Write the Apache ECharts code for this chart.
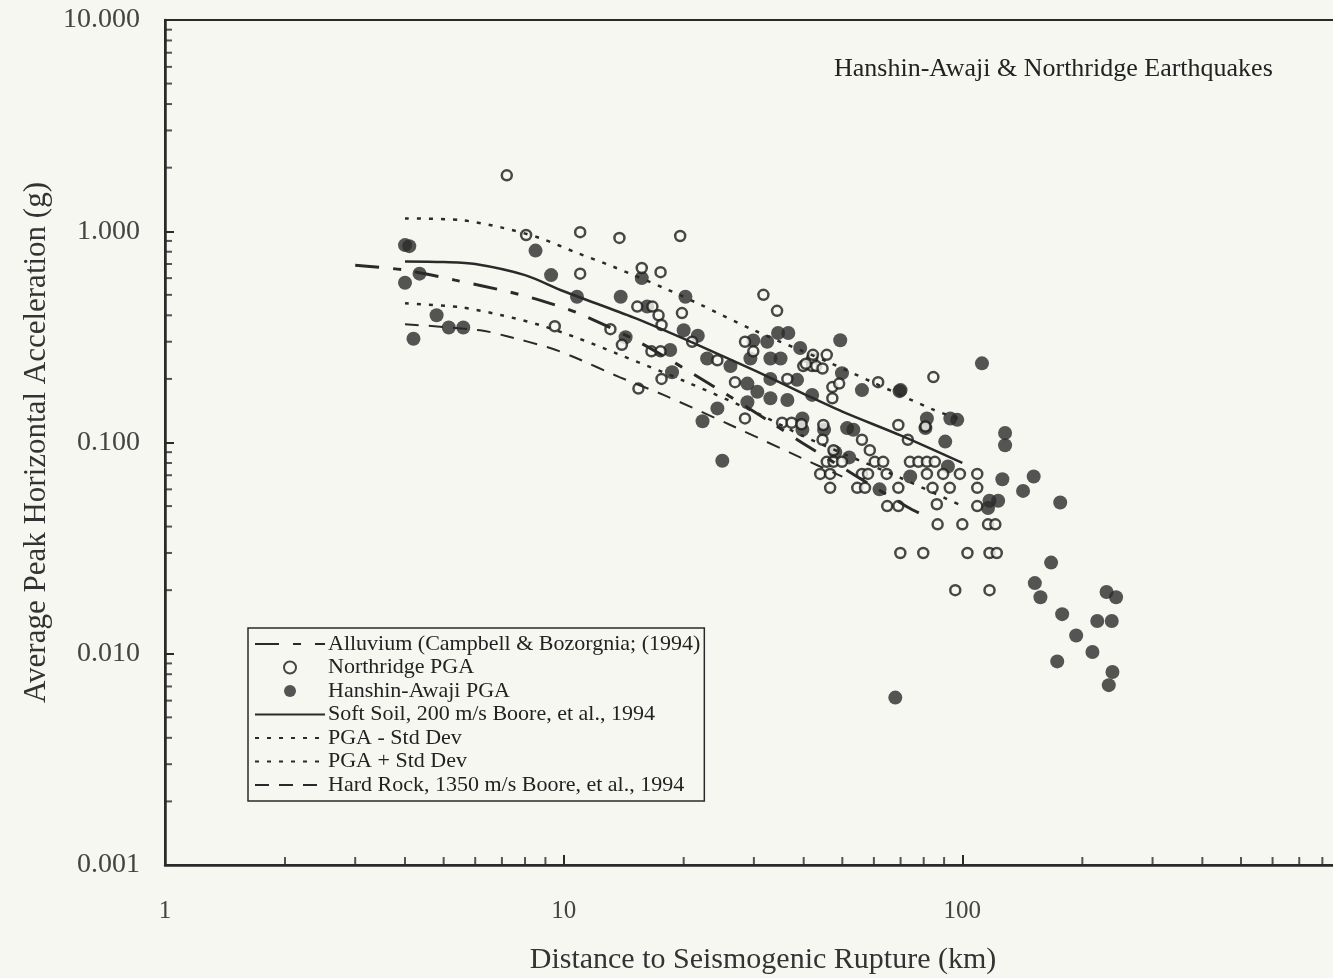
<!DOCTYPE html>
<html>
<head>
<meta charset="utf-8">
<title>Hanshin-Awaji & Northridge PGA</title>
<script src="https://cdn.jsdelivr.net/npm/echarts@6/dist/echarts.min.js"></script>
<style>
    html, body { margin: 0; padding: 0; background: #f7f7f2; }
    #chart { width: 1333px; height: 978px; }
</style>
</head>
<body>
<div id="chart"></div>
<script>
// 数据 (距离 km, PGA g) 从图上读出
const northridgePGA = [
    [7.2, 1.84], [8.05, 0.96], [11.0, 0.99], [13.8, 0.93], [19.6, 0.95],
    [11.0, 0.63], [15.7, 0.67], [17.5, 0.64],
    [9.5, 0.355], [13.1, 0.344], [14.0, 0.29], [15.4, 0.18],
    [15.3, 0.44], [16.7, 0.44], [17.3, 0.40], [17.6, 0.36],
    [16.6, 0.27], [17.5, 0.27], [17.6, 0.20],
    [19.8, 0.41], [21.0, 0.30], [24.3, 0.245], [26.9, 0.193], [28.5, 0.13],
    [28.5, 0.30], [29.9, 0.27], [31.7, 0.50], [34.3, 0.42],
    [36.4, 0.20], [39.9, 0.23], [42, 0.23], [42, 0.25],
    [35.3, 0.124], [37.3, 0.124], [39.5, 0.122],
    [42.2, 0.26], [45.7, 0.26], [40.5, 0.236], [43, 0.23], [44.6, 0.224],
    [47.2, 0.183], [49.1, 0.19], [47.2, 0.162],
    [61.5, 0.193], [84.6, 0.204],
    [44.8, 0.121], [56, 0.103], [69.1, 0.121], [73, 0.103], [80.8, 0.119],
    [44.6, 0.103], [47.5, 0.092], [58.6, 0.092],
    [45.7, 0.081], [47.5, 0.081], [49.9, 0.081], [60.3, 0.081], [63.3, 0.081],
    [73.9, 0.081], [77.6, 0.081], [81.5, 0.081], [85.3, 0.081],
    [44, 0.071], [46.6, 0.071], [56, 0.071], [58, 0.071], [64.6, 0.071],
    [81.5, 0.071], [89.5, 0.071], [98.6, 0.071], [109, 0.071],
    [46.6, 0.061], [54.5, 0.061], [57, 0.061], [69.1, 0.061], [84.2, 0.061], [93, 0.061], [109, 0.061],
    [64.8, 0.050], [69.1, 0.050], [86.3, 0.051], [109, 0.050],
    [86.7, 0.041], [100, 0.041], [116, 0.041], [121, 0.041],
    [69.9, 0.030], [79.8, 0.030], [103, 0.030], [117, 0.030], [122, 0.030],
    [96, 0.020], [117, 0.020]
];

const hanshinPGA = [
    [4.0, 0.86], [4.1, 0.85], [4.0, 0.57], [4.35, 0.63], [4.8, 0.40], [5.15, 0.35], [5.6, 0.35], [4.2, 0.31],
    [8.5, 0.81], [9.3, 0.62], [10.8, 0.49], [13.9, 0.49], [14.3, 0.315],
    [15.7, 0.60], [16.2, 0.44], [18.5, 0.274], [18.7, 0.215],
    [20.2, 0.49], [20.0, 0.34], [21.7, 0.32], [22.3, 0.126], [25, 0.082], [24.3, 0.145],
    [22.9, 0.25], [26.2, 0.23], [28.9, 0.19], [28.9, 0.155], [30.6, 0.174], [33, 0.162], [33, 0.20],
    [36.4, 0.159], [38.5, 0.198], [42, 0.168], [39.7, 0.130], [39.7, 0.115],
    [29.9, 0.304], [32.4, 0.30], [34.5, 0.33], [36.6, 0.33], [29.4, 0.25], [33, 0.25], [35, 0.25], [39.2, 0.28],
    [49.4, 0.305], [112, 0.237], [70, 0.177], [56, 0.177], [49.9, 0.213], [93.3, 0.130], [97.1, 0.128],
    [81.5, 0.13], [80.8, 0.117], [90.6, 0.101], [51.4, 0.117], [53.3, 0.115], [74, 0.069], [117, 0.053],
    [45, 0.115], [48, 0.09], [52, 0.085], [62, 0.060], [92, 0.077],
    [69.6, 0.175], [128, 0.111], [128, 0.097], [126, 0.067], [151, 0.069], [142, 0.059], [176, 0.052],
    [123, 0.053], [116, 0.049],
    [167, 0.027], [152, 0.0216], [157, 0.0185], [178, 0.0154], [193, 0.0122], [173, 0.0092],
    [212, 0.0102], [218, 0.0143], [237, 0.0143], [230, 0.0196], [243, 0.0185], [238, 0.0082],
    [233, 0.0071], [67.9, 0.0062]
];

// 衰减曲线
const alluviumCurve = [
    [3.0, 0.69], [4.0, 0.655], [5.34, 0.587], [7.34, 0.515], [9.03, 0.462], [11.0, 0.406],
    [15.6, 0.296], [23.9, 0.183], [32.8, 0.126], [39.7, 0.0995], [72.8, 0.0495], [78.5, 0.046]
];
const softSoilCurve = [
    [4, 0.72], [5, 0.715], [6, 0.70], [8, 0.62], [10, 0.52], [15, 0.39], [20, 0.31],
    [30, 0.22], [40, 0.17], [50, 0.14], [70, 0.108], [100, 0.080]
];
const minusStdCurve = [
    [4, 0.456], [5.5, 0.437], [7, 0.40], [8.7, 0.36], [10.8, 0.313], [13.5, 0.265],
    [20, 0.196], [30, 0.14], [40, 0.107], [50, 0.089], [70, 0.068], [100, 0.050]
];
const plusStdCurve = [
    [4, 1.15], [5.5, 1.13], [7, 1.04], [8.7, 0.93], [10.8, 0.79], [13.3, 0.68], [18.2, 0.53],
    [22, 0.45], [30, 0.34], [46.6, 0.238], [59.5, 0.193], [84.6, 0.143], [100, 0.128]
];
const hardRockCurve = [
    [4, 0.363], [6.17, 0.34], [7.13, 0.32], [9.25, 0.28], [10.6, 0.254], [13.8, 0.204],
    [17.8, 0.168], [26.2, 0.121], [39.2, 0.085], [50, 0.069]
];

// 次刻度
const xMinorTicks = [2, 3, 4, 5, 6, 7, 8, 9, 20, 30, 40, 50, 60, 70, 80, 90, 200, 300, 400, 500, 600, 700, 800, 900];
const yMinorTicks = [
    0.002, 0.003, 0.004, 0.005, 0.006, 0.007, 0.008, 0.009,
    0.02, 0.03, 0.04, 0.05, 0.06, 0.07, 0.08, 0.09,
    0.2, 0.3, 0.4, 0.5, 0.6, 0.7, 0.8, 0.9,
    2, 3, 4, 5, 6, 7, 8, 9
];

const BG = '#f7f7f2';
const INK = '#2a2a2a';
const FONT = '"Liberation Serif", "DejaVu Serif", serif';

const LEGEND_NAMES = [
    'Alluvium (Campbell & Bozorgnia; (1994)',
    'Northridge PGA',
    'Hanshin-Awaji PGA',
    'Soft Soil, 200 m/s Boore, et al., 1994',
    'PGA - Std Dev',
    'PGA + Std Dev',
    'Hard Rock, 1350 m/s Boore, et al., 1994'
];

const chart = echarts.init(document.getElementById('chart'));

const lineSeries = (name, data, type, width) => ({
    name: name,
    type: 'line',
    data: data,
    smooth: 0.3,
    symbol: 'none',
    z: 4,
    lineStyle: { color: INK, width: width, type: type },
    itemStyle: { color: INK }
});

// 线条图例不显示圆点
const legendData = LEGEND_NAMES.map((name, i) => (
    (i === 1 || i === 2) ? { name: name } : { name: name, itemStyle: { opacity: 0 } }
));

const option = {
    backgroundColor: BG,
    animation: false,
    title: {
        text: 'Hanshin-Awaji & Northridge Earthquakes',
        left: 829,
        top: 51,
        textStyle: { fontFamily: FONT, fontSize: 26, fontWeight: 'normal', color: '#222' }
    },
    legend: {
        orient: 'vertical',
        left: 248,
        top: 628,
        padding: [5, 4, 5, 6],
        itemWidth: 70,
        itemHeight: 12,
        itemGap: 1.5,
        borderColor: INK,
        borderWidth: 1.5,
        backgroundColor: BG,
        textStyle: { fontFamily: FONT, fontSize: 22, lineHeight: 22, color: '#222', padding: [0, 0, 0, -2] },
        data: legendData
    },
    grid: {
        left: 165,
        width: 1196,
        top: 20,
        height: 845,
        outerBoundsMode: 'none',
        containLabel: false,
        show: true,
        borderColor: INK,
        borderWidth: 2,
        backgroundColor: 'transparent'
    },
    xAxis: {
        type: 'log',
        logBase: 10,
        min: 1,
        max: 1000,
        name: 'Distance to Seismogenic Rupture (km)',
        nameLocation: 'middle',
        nameGap: 80,
        nameTextStyle: { fontFamily: FONT, fontSize: 30, color: '#333' },
        axisLine: { lineStyle: { color: INK, width: 2.5 } },
        axisTick: { inside: true, length: 10, lineStyle: { color: INK, width: 2 } },
        axisLabel: { fontFamily: FONT, fontSize: 25, color: '#444', margin: 34, formatter: (v) => String(v) },
        splitLine: { show: false }
    },
    yAxis: {
        type: 'log',
        logBase: 10,
        min: 0.001,
        max: 10,
        name: 'Average Peak Horizontal Acceleration (g)',
        nameLocation: 'middle',
        nameGap: 113,
        nameTextStyle: { fontFamily: FONT, fontSize: 31, color: '#333' },
        axisLine: { lineStyle: { color: INK, width: 2.5 } },
        axisTick: { inside: true, length: 9, lineStyle: { color: INK, width: 2 } },
        axisLabel: {
            fontFamily: FONT, fontSize: 28, color: '#444', margin: 25,
            formatter: (v) => v.toFixed(3)
        },
        splitLine: { show: false }
    },
    series: [
        lineSeries(LEGEND_NAMES[0], alluviumCurve, [24, 14, 8, 14], 3),
        {
            name: LEGEND_NAMES[1],
            type: 'scatter',
            data: northridgePGA,
            symbol: 'circle',
            symbolSize: 10,
            z: 3,
            itemStyle: { color: BG, borderColor: '#1a1a1a', borderWidth: 2.5 }
        },
        {
            name: LEGEND_NAMES[2],
            type: 'scatter',
            data: hanshinPGA,
            symbol: 'circle',
            symbolSize: 14,
            z: 2,
            itemStyle: { color: '#2b2b2b' }
        },
        lineSeries(LEGEND_NAMES[3], softSoilCurve, 'solid', 2.5),
        lineSeries(LEGEND_NAMES[4], minusStdCurve, [4, 8], 2.5),
        lineSeries(LEGEND_NAMES[5], plusStdCurve, [4, 8], 2.5),
        lineSeries(LEGEND_NAMES[6], hardRockCurve, [14, 10], 2),
        // 次刻度 (x)
        {
            type: 'scatter',
            silent: true,
            clip: false,
            data: xMinorTicks.map(v => [v, 0.001]),
            symbol: 'rect',
            symbolSize: [2, 8],
            symbolOffset: [0, -4],
            itemStyle: { color: INK }
        },
        // 次刻度 (y)
        {
            type: 'scatter',
            silent: true,
            clip: false,
            data: yMinorTicks.map(v => [1, v]),
            symbol: 'rect',
            symbolSize: [7, 2],
            symbolOffset: [3.5, 0],
            itemStyle: { color: INK }
        }
    ]
};

chart.setOption(option);
</script>
</body>
</html>
